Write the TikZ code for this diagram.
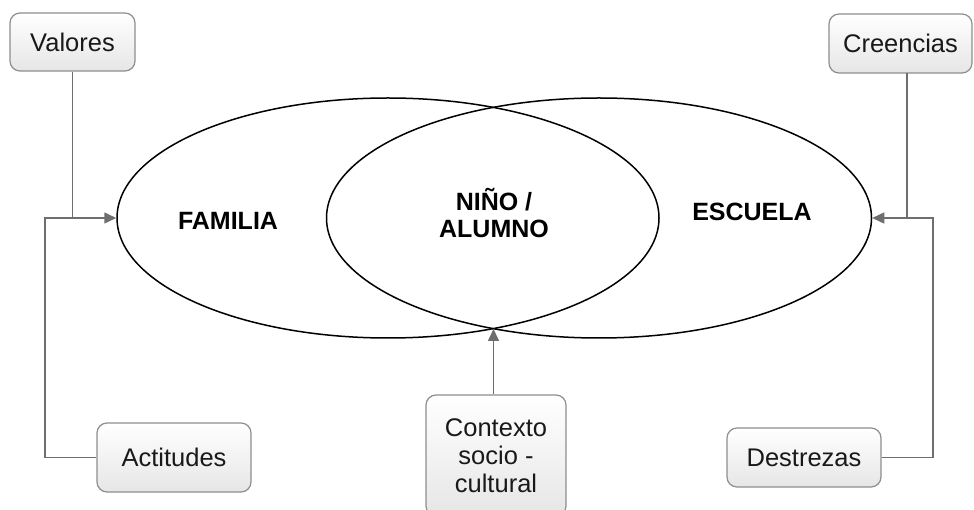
\documentclass[tikz,border=0pt]{standalone}
\usepackage{fontspec}
\setmainfont{Liberation Sans}
\usetikzlibrary{shapes.geometric,arrows.meta}
\definecolor{boxborder}{HTML}{8E8E8E}
\definecolor{conn}{HTML}{6E6E6E}
\definecolor{boxbot}{HTML}{E6E6E6}
\tikzset{
  labelbox/.style={draw=boxborder, line width=1.2pt, rounded corners=10pt,
    top color=white, bottom color=boxbot, inner sep=0pt, align=center,
    font=\fontsize{25.5}{28}\selectfont, text=black!90},
  circle set/.style={ellipse, draw=black, line width=1.5pt, inner sep=0pt},
  setlabel/.style={font=\fontsize{25}{27}\selectfont\bfseries, align=center, inner sep=0pt},
  conline/.style={draw=conn, line width=1.5pt},
  conarrow/.style={conline, -{Triangle[length=12pt,width=11pt]}}
}
\begin{document}
\begin{tikzpicture}[x=1pt,y=-1pt]
\useasboundingbox (0,0) rectangle (974,510);
% sets
\node[circle set, minimum width=542pt, minimum height=240pt] (fam) at (388,218) {};
\node[circle set, minimum width=545pt, minimum height=240pt] (esc) at (599,218) {};
\coordinate (lowx) at (493.5,329);
% set labels
\node[setlabel] (tfam) at (228,221) {FAMILIA};
\node[setlabel] (tnino) at (494,213) {NIÑO /\\ALUMNO};
\node[setlabel] (tesc) at (752,212) {ESCUELA};
% boxes
\node[labelbox, minimum width=125pt, minimum height=58pt] (val) at (72.5,42) {Valores};
\node[labelbox, minimum width=143pt, minimum height=59pt] (cre) at (900.5,43.5) {Creencias};
\node[labelbox, minimum width=154pt, minimum height=69pt] (act) at (174,457.5) {Actitudes};
\node[labelbox, minimum width=154pt, minimum height=59pt] (des) at (804,457.5) {Destrezas};
\node[labelbox, minimum width=140pt, minimum height=121pt] (ctx) at (496,455.5) {Contexto\\socio -\\cultural};
% junction coordinates
\coordinate (jl) at (72.5,218);
\coordinate (jr) at (907,218);
\coordinate (cretop) at (907,73);
% connectors
\draw[conline] (val.south) -- (jl);
\draw[conarrow] (act.west) -| (45,218) -- (fam.west);
\draw[conline] (cretop) -- (jr);
\draw[conarrow] (des.east) -| (933,218) -- (esc.east);
\draw[conarrow] (ctx.north -| lowx) -- (lowx);
\end{tikzpicture}
\end{document}
